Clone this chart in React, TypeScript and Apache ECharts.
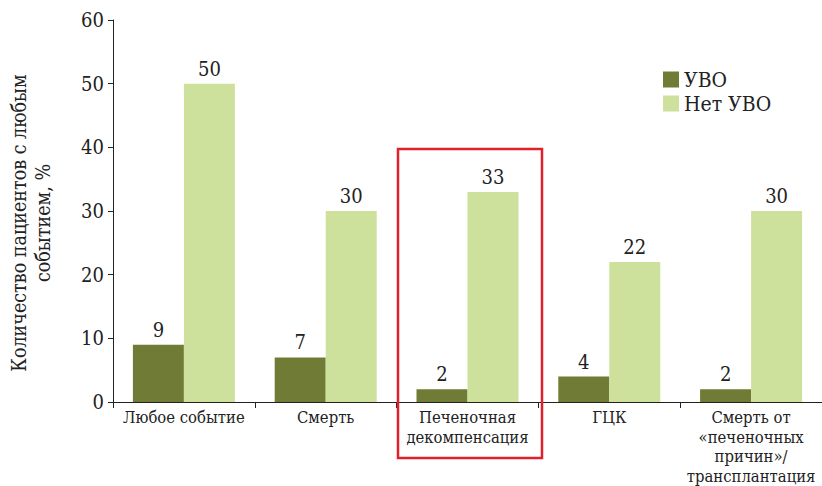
import React, { useEffect, useRef } from "react";
import * as echarts from "echarts";

const categories = [
  "Любое событие",
  "Смерть",
  "Печеночная\nдекомпенсация",
  "ГЦК",
  "Смерть от\n«печеночных\nпричин»/\nтрансплантация",
];
const uvo = [9, 7, 2, 4, 2];
const noUvo = [50, 30, 33, 22, 30];
const seriesNames = ["УВО", "Нет УВО"];
const yAxisTitle = "Количество пациентов с любым\nсобытием, %";

const FONT = "DejaVu Serif Condensed, DejaVu Serif";

export default function App() {
  const ref = useRef<HTMLDivElement>(null);
  useEffect(() => {
    if (!ref.current) return;
    const chart = echarts.init(ref.current, null, { renderer: "svg" });
    const labelStyle = {
      show: true,
      position: "top" as const,
      fontFamily: FONT,
      fontSize: 20,
      color: "#222",
      distance: 5,
    };
    chart.setOption({
      animation: false,
      backgroundColor: "#fff",
      textStyle: { fontFamily: FONT },
      grid: { left: 113, right: 0, top: 20, bottom: 84, outerBoundsMode: "none", containLabel: false },
      legend: {
        orient: "vertical",
        left: 658,
        top: 64,
        itemWidth: 16,
        itemHeight: 16,
        itemGap: 3,
        icon: "rect",
        textStyle: { fontFamily: FONT, fontSize: 21, color: "#222" },
        data: seriesNames,
      },
      xAxis: {
        type: "category",
        data: categories,
        axisLine: { lineStyle: { color: "#222", width: 1 } },
        axisTick: { show: true, length: 6, lineStyle: { color: "#222" } },
        axisLabel: {
          interval: 0,
          fontFamily: FONT,
          fontSize: 16.5,
          lineHeight: 19.5,
          color: "#222",
          margin: 6,
        },
      },
      yAxis: {
        type: "value",
        min: 0,
        max: 60,
        interval: 10,
        name: yAxisTitle,
        nameLocation: "middle",
        nameRotate: 90,
        nameGap: 58,
        nameTextStyle: {
          fontFamily: FONT,
          fontSize: 19.5,
          lineHeight: 24,
          color: "#222",
          align: "center",
          padding: [0, 24, 0, 0],
        },
        splitLine: { show: false },
        axisLine: { show: true, lineStyle: { color: "#222", width: 1 } },
        axisTick: { show: true, length: 5, lineStyle: { color: "#222" } },
        axisLabel: {
          fontFamily: FONT,
          fontSize: 20,
          color: "#222",
          margin: 9,
        },
      },
      series: [
        {
          name: seriesNames[0],
          type: "bar",
          data: uvo,
          barWidth: 51,
          barGap: "0%",
          itemStyle: { color: "#707b35" },
          label: labelStyle,
        },
        {
          name: seriesNames[1],
          type: "bar",
          data: noUvo,
          barWidth: 51,
          barGap: "0%",
          itemStyle: { color: "#cde09c" },
          label: labelStyle,
        },
      ],
      graphic: [
        {
          type: "rect",
          shape: { x: 398, y: 149, width: 144, height: 309 },
          style: { fill: "none", stroke: "#e1202c", lineWidth: 2.5 },
          z: 100,
        },
      ],
    });
    return () => chart.dispose();
  }, []);
  return (
    <div
      ref={ref}
      style={{ position: "fixed", left: 0, top: 0, width: 822, height: 486 }}
    />
  );
}
